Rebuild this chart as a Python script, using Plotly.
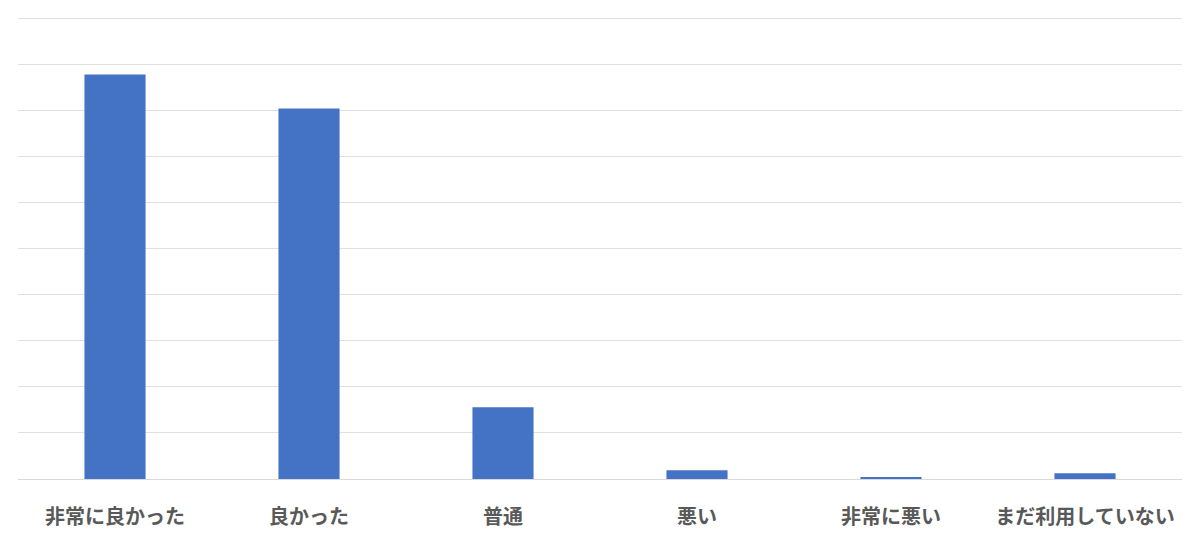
import plotly.graph_objects as go

categories = ["非常に良かった", "良かった", "普通", "悪い", "非常に悪い", "まだ利用していない"]
values = [87.8, 80.4, 15.6, 1.9, 0.4, 1.25]

fig = go.Figure(
    go.Bar(x=categories, y=values, marker=dict(color="#4472C4", line=dict(width=0)))
)
fig.update_layout(
    width=1200, height=545,
    margin=dict(l=10, r=26, t=8, b=74, pad=0),
    paper_bgcolor="white", plot_bgcolor="white",
    bargap=0.685, showlegend=False,
    font=dict(family="Noto Sans CJK JP", color="#595959"),
)
fig.update_xaxes(
    automargin=False,
    showgrid=False, showline=False, zeroline=False,
    ticks="outside", ticklen=20, tickcolor="rgba(0,0,0,0)",
    tickfont=dict(size=20, family="Noto Sans CJK JP", color="#595959", weight="bold"),
)
fig.update_yaxes(
    automargin=False,
    range=[0, 100.5], dtick=10, showticklabels=False,
    showgrid=True, gridcolor="#e0e0e0", gridwidth=1,
    zeroline=True, zerolinecolor="#d9d9d9", zerolinewidth=1,
)
fig.write_html("out.html")
